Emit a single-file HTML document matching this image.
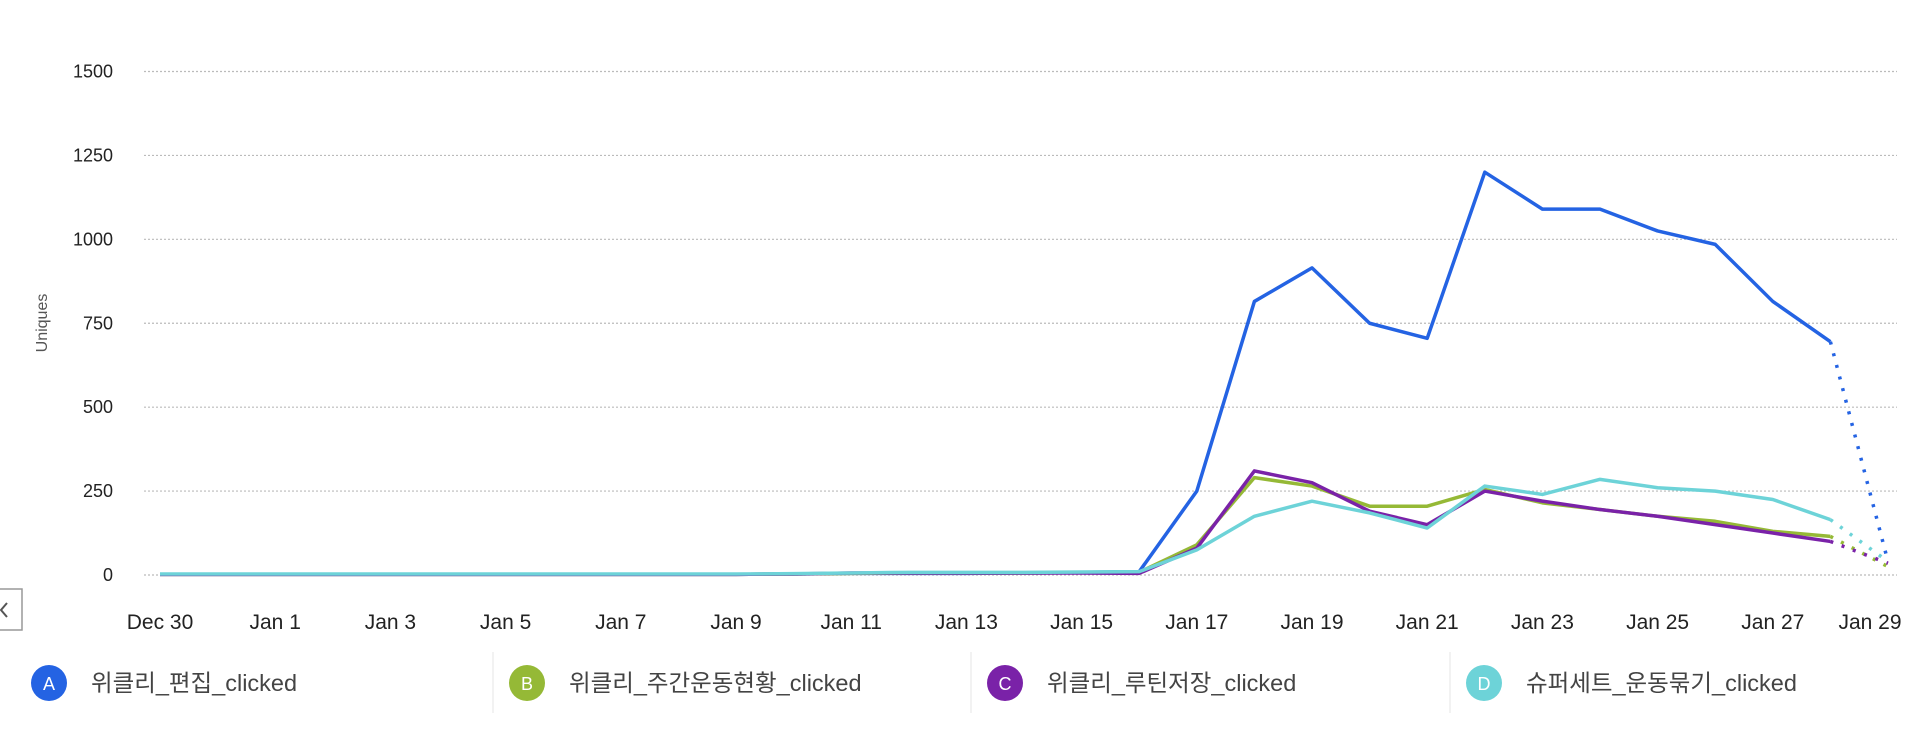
<!DOCTYPE html>
<html><head><meta charset="utf-8">
<style>
html,body{margin:0;padding:0;background:#fff;width:1932px;height:730px;overflow:hidden;font-family:"Liberation Sans","Noto Sans CJK KR",sans-serif;}
svg{display:block}
</style></head>
<body>
<svg id="chart" width="1932" height="730" xmlns="http://www.w3.org/2000/svg"></svg>
<script>
const dates = ["Dec 30","Dec 31","Jan 1","Jan 2","Jan 3","Jan 4","Jan 5","Jan 6","Jan 7","Jan 8","Jan 9","Jan 10","Jan 11","Jan 12","Jan 13","Jan 14","Jan 15","Jan 16","Jan 17","Jan 18","Jan 19","Jan 20","Jan 21","Jan 22","Jan 23","Jan 24","Jan 25","Jan 26","Jan 27","Jan 28","Jan 29"];
const xTickLabels = ["Dec 30","Jan 1","Jan 3","Jan 5","Jan 7","Jan 9","Jan 11","Jan 13","Jan 15","Jan 17","Jan 19","Jan 21","Jan 23","Jan 25","Jan 27","Jan 29"];
const yTicks = [0,250,500,750,1000,1250,1500];
const seriesA = [2,2,2,2,2,2,2,2,2,2,2,3,5,5,5,6,8,10,250,815,915,750,705,1200,1090,1090,1025,985,815,695,40];
const seriesB = [2,2,2,2,2,2,2,2,2,2,2,3,5,6,6,6,7,8,90,290,265,205,205,255,215,195,175,160,130,115,25];
const seriesC = [2,2,2,2,2,2,2,2,2,2,2,3,6,6,6,6,6,5,80,310,275,190,150,250,220,195,175,150,125,100,35];
const seriesD = [3,3,3,3,3,3,3,3,3,3,3,4,6,8,8,8,9,10,75,175,220,185,140,265,240,285,260,250,225,165,40];
const seriesNames = ["위클리_편집_clicked","위클리_주간운동현황_clicked","위클리_루틴저장_clicked","슈퍼세트_운동묶기_clicked"];
const letters = ["A","B","C","D"];
const colors = ["#2463e3","#95b936","#7a22a8","#6dd3d8"];

const svg = document.getElementById('chart');
const NS = "http://www.w3.org/2000/svg";
const X0 = 160, DX = 57.6, Y0 = 575, YMAX = 1500, YTOP = 71.5;
const xs = i => X0 + i * DX;
const ys = v => Y0 - (v / YMAX) * (Y0 - YTOP);
function mk(tag, attrs){ const e = document.createElementNS(NS, tag); for (const k in attrs) e.setAttribute(k, attrs[k]); svg.appendChild(e); return e; }

yTicks.forEach(v => {
  const g = mk('line', {x1:144, x2:1897, y1:ys(v), y2:ys(v), stroke:'#bbb', 'stroke-width':1.2, 'stroke-dasharray':'2,2'});
  
  
  const t = mk('text', {x:113, y:ys(v)+6, 'text-anchor':'end', 'font-size':18, fill:'#222'});
  t.textContent = v;
  
  
});
const yt = mk('text', {x:0, y:0, transform:'translate(47,323) rotate(-90)', 'text-anchor':'middle', 'font-size':16, fill:'#555'});
yt.textContent = 'Uniques';



xTickLabels.forEach(lbl => {
  const i = dates.indexOf(lbl);
  let x = xs(i);
  if (lbl === "Jan 29") x -= 18;
  const t = mk('text', {x:x, y:629, 'text-anchor':'middle', 'font-size':21, fill:'#222'});
  t.textContent = lbl;
  
  
});

[seriesA, seriesB, seriesC, seriesD].forEach((s, k) => {
  const n = s.length;
  const solid = s.slice(0, n-1).map((v,i) => xs(i)+','+ys(v)).join(' ');
  const p = mk('polyline', {points:solid, fill:'none', stroke:colors[k], 'stroke-width':3.5, 'stroke-linejoin':'round'});
  
  
  const d = mk('line', {x1:xs(n-2), y1:ys(s[n-2]), x2:xs(n-1), y2:ys(s[n-1]), stroke:colors[k], 'stroke-width':3.5, 'stroke-dasharray':'3,9'});
  
  
});

const btn = mk('rect', {x:-2, y:589, width:24, height:41, fill:'#fff', stroke:'#999', 'stroke-width':1.5});


const arr = mk('polyline', {points:'7,603 1,610 7,617', fill:'none', stroke:'#555', 'stroke-width':2});



const legX = [31, 509, 987, 1466];
const sepX = [493, 971, 1450];
sepX.forEach(x => {
  const l = mk('line', {x1:x, x2:x, y1:652, y2:713, stroke:'#eee', 'stroke-width':1.5});
  
  
});
seriesNames.forEach((nm, k) => {
  const c = mk('circle', {cx:legX[k]+18, cy:683, r:18, fill:colors[k]});
  
  
  const lt = mk('text', {x:legX[k]+18, y:690, 'text-anchor':'middle', 'font-size':18, fill:'#fff'});
  lt.textContent = letters[k];
  
  
  const t = mk('text', {x:legX[k]+60, y:691, 'font-size':23.5, fill:'#444'});
  t.textContent = nm;
  
  
});
</script>
</body></html>
